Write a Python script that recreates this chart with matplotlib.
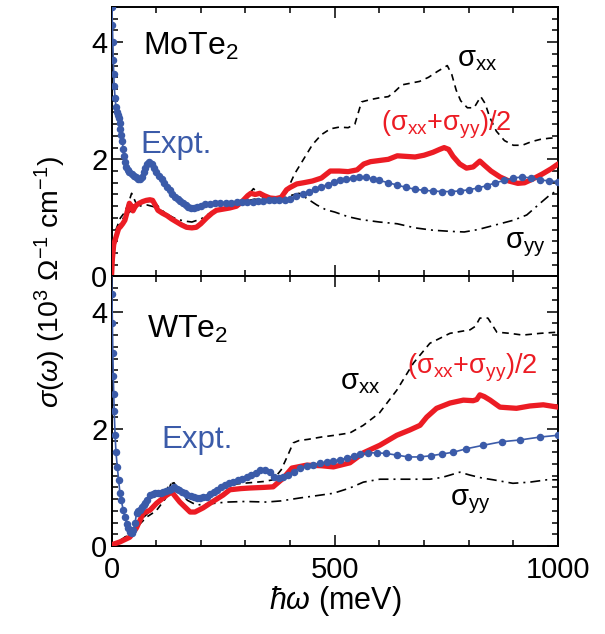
import matplotlib
matplotlib.use("Agg")
import matplotlib.pyplot as plt
from matplotlib.ticker import MultipleLocator

plt.rcParams['font.family'] = ['Liberation Sans', 'DejaVu Sans']
plt.rcParams['mathtext.fontset'] = 'custom'
plt.rcParams['mathtext.rm'] = 'Liberation Sans'
plt.rcParams['mathtext.it'] = 'Liberation Sans:italic'
plt.rcParams['mathtext.default'] = 'regular'

RED = '#ec1c24'
BLUE = '#3b5ba9'

# ---------------- MoTe2 (top panel) ----------------
mo_expt_e = [0, 1, 2, 3, 4, 5, 6, 8, 10, 12, 14, 16, 18, 20, 22, 24, 26, 28, 30, 33, 36, 40, 45, 50,
             55, 60, 64, 68, 72, 76, 80, 85, 90, 95, 100, 106, 112, 118, 124, 130, 136, 142, 148,
             154, 160, 166, 172, 178, 185, 192, 200, 210, 220, 232, 244, 256, 268, 280, 292, 304,
             316, 328, 340, 352, 364, 376, 388, 400, 414, 428, 442, 456, 470, 484, 498, 512, 526,
             540, 555, 570, 585, 600, 620, 640, 660, 680, 700, 720, 740, 760, 780, 800, 820, 840,
             860, 880, 900, 920, 940, 960, 980, 1000]
mo_expt_s = [4.8, 4.6, 4.3, 4.0, 3.7, 3.45, 3.25, 3.05, 2.9, 2.8, 2.75, 2.7, 2.62, 2.52, 2.42, 2.32,
             2.18, 2.05, 1.95, 1.87, 1.82, 1.78, 1.75, 1.72, 1.7, 1.67, 1.66, 1.7, 1.78, 1.86, 1.92,
             1.95, 1.92, 1.85, 1.78, 1.72, 1.66, 1.6, 1.53, 1.47, 1.41, 1.36, 1.32, 1.29, 1.25, 1.22,
             1.19, 1.17, 1.17, 1.19, 1.21, 1.23, 1.24, 1.25, 1.25, 1.26, 1.26, 1.27, 1.27, 1.28,
             1.28, 1.29, 1.29, 1.3, 1.3, 1.31, 1.31, 1.33, 1.37, 1.41, 1.45, 1.49, 1.53, 1.57, 1.61,
             1.64, 1.66, 1.68, 1.69, 1.69, 1.67, 1.64, 1.6, 1.56, 1.52, 1.49, 1.47, 1.46, 1.45, 1.45,
             1.46, 1.48, 1.51, 1.55, 1.6, 1.64, 1.68, 1.7, 1.68, 1.65, 1.63, 1.62]

mo_avg_e = [0, 2, 5, 8, 12, 16, 20, 25, 30, 35, 40, 45, 48, 52, 56, 62, 70, 78, 86, 92, 98, 104,
            114, 124, 135, 146, 157, 168, 180, 190, 200, 213, 225, 235, 250, 265, 280, 295, 305,
            312, 322, 332, 342, 355, 368, 380, 392, 400, 415, 430, 450, 470, 490, 510, 530, 550,
            565, 580, 600, 620, 640, 660, 680, 700, 720, 735, 745, 755, 765, 780, 795, 810, 825,
            835, 850, 870, 890, 910, 925, 945, 965, 985, 1000]
mo_avg_s = [0.0, 0.3, 0.55, 0.62, 0.72, 0.82, 0.85, 0.9, 0.96, 1.1, 1.25, 1.2, 1.12, 1.18, 1.22,
            1.25, 1.28, 1.3, 1.31, 1.3, 1.22, 1.13, 1.08, 1.04, 0.98, 0.93, 0.88, 0.84, 0.83, 0.84,
            0.9, 1.0, 1.08, 1.13, 1.15, 1.17, 1.2, 1.3, 1.38, 1.42, 1.4, 1.42, 1.38, 1.34, 1.33,
            1.35, 1.48, 1.52, 1.58, 1.6, 1.63, 1.68, 1.8, 1.8, 1.79, 1.82, 1.92, 1.96, 1.98, 2.0,
            2.06, 2.05, 2.04, 2.07, 2.12, 2.17, 2.2, 2.17, 2.05, 1.92, 1.85, 1.87, 1.97, 1.9, 1.8,
            1.7, 1.63, 1.59, 1.6, 1.67, 1.75, 1.84, 1.92]

mo_xx_e = [0, 5, 10, 20, 30, 40, 45, 55, 65, 80, 95, 110, 130, 150, 170, 190, 210, 230, 250, 270,
           290, 305, 318, 330, 350, 370, 385, 395, 410, 430, 450, 470, 490, 510, 530, 545, 560,
           580, 600, 620, 635, 650, 670, 690, 710, 730, 752, 762, 772, 782, 797, 812, 827, 837,
           847, 862, 880, 900, 920, 940, 960, 980, 1000]
mo_xx_s = [0.0, 0.5, 0.8, 1.0, 1.1, 1.3, 1.42, 1.25, 1.25, 1.28, 1.28, 1.15, 1.02, 0.93, 0.86, 0.86,
           0.98, 1.1, 1.15, 1.17, 1.22, 1.38, 1.5, 1.4, 1.3, 1.28, 1.3, 1.5, 1.75, 2.0, 2.25, 2.42,
           2.52, 2.55, 2.54, 2.6, 2.98, 3.02, 3.05, 3.07, 3.16, 3.27, 3.3, 3.33, 3.4, 3.5, 3.6, 3.45,
           3.18, 3.0, 2.88, 2.88, 3.07, 2.95, 2.72, 2.48, 2.32, 2.24, 2.24, 2.3, 2.34, 2.36, 2.37]

mo_yy_e = [0, 10, 20, 30, 40, 50, 60, 80, 100, 120, 140, 160, 180, 200, 220, 240, 260, 280, 300,
           320, 340, 360, 380, 400, 420, 440, 460, 480, 500, 530, 560, 600, 640, 680, 720, 760,
           790, 820, 860, 900, 930, 960, 980, 1000]
mo_yy_s = [0.0, 0.7, 0.9, 1.05, 1.1, 1.15, 1.2, 1.22, 1.18, 1.08, 1.0, 0.95, 0.93, 0.98, 1.08,
           1.15, 1.17, 1.2, 1.28, 1.32, 1.3, 1.3, 1.32, 1.38, 1.42, 1.32, 1.22, 1.14, 1.1, 1.02,
           0.97, 0.93, 0.9, 0.83, 0.79, 0.77, 0.76, 0.8, 0.88, 0.96, 1.05, 1.25, 1.38, 1.48]

# ---------------- WTe2 (bottom panel) ----------------
w_expt_e = [0, 1, 2, 3, 4, 5, 6, 8, 10, 13, 16, 19, 22, 26, 30, 34, 38, 41, 45, 49, 53, 56, 60,
            64, 68, 72, 76, 80, 86, 92, 98, 104, 110, 116, 122, 128, 134, 140, 146, 152, 158, 164,
            170, 177, 184, 191, 198, 206, 213, 221, 229, 237, 245, 254, 263, 273, 283, 293, 303,
            313, 323, 333, 343, 355, 365, 375, 385, 395, 408, 422, 437, 452, 467, 482, 497, 512,
            527, 542, 557, 575, 595, 615, 640, 665, 690, 715, 740, 765, 795, 833, 874, 915, 960, 1000]
w_expt_s = [4.8, 4.3, 3.8, 3.3, 2.9, 2.6, 2.3, 1.9, 1.6, 1.35, 1.12, 0.9, 0.78, 0.62, 0.5, 0.38,
            0.3, 0.24, 0.22, 0.27, 0.4, 0.56, 0.6, 0.62, 0.66, 0.7, 0.74, 0.78, 0.87, 0.88, 0.9,
            0.9, 0.91, 0.92, 0.94, 0.96, 0.98, 1.0, 0.98, 0.96, 0.93, 0.9, 0.87, 0.85, 0.83, 0.82,
            0.82, 0.83, 0.84, 0.88, 0.92, 0.96, 1.0, 1.04, 1.07, 1.09, 1.12, 1.15, 1.18, 1.21,
            1.25, 1.29, 1.3, 1.26, 1.18, 1.16, 1.18, 1.21, 1.27, 1.33, 1.36, 1.39, 1.41, 1.43,
            1.45, 1.47, 1.5, 1.54, 1.57, 1.59, 1.59, 1.58, 1.55, 1.52, 1.52, 1.54, 1.57, 1.6,
            1.66, 1.72, 1.78, 1.81, 1.86, 1.89]

w_avg_e = [0, 19, 41, 56, 71, 86, 101, 124, 135, 153, 176, 187, 205, 221, 250, 265, 290, 310,
           340, 362, 385, 404, 437, 470, 497, 534, 564, 601, 639, 668, 691, 706, 728, 758, 788,
           810, 818, 825, 835, 848, 870, 907, 937, 967, 1000]
w_avg_s = [0.02, 0.07, 0.15, 0.31, 0.56, 0.61, 0.73, 0.87, 0.92, 0.75, 0.58, 0.58, 0.65, 0.73,
           0.87, 0.96, 0.98, 0.99, 1.0, 1.01, 1.16, 1.33, 1.38, 1.37, 1.35, 1.42, 1.59, 1.72,
           1.89, 1.98, 2.06, 2.2, 2.35, 2.44, 2.49, 2.48, 2.5, 2.58, 2.55, 2.49, 2.37, 2.35,
           2.39, 2.41, 2.37]

w_xx_e = [0, 20, 40, 60, 80, 100, 120, 135, 150, 170, 190, 210, 230, 250, 280, 310, 340, 362,
          380, 395, 407, 420, 440, 470, 500, 534, 564, 600, 639, 676, 713, 758, 803, 815, 825,
          843, 863, 892, 921, 960, 1000]
w_xx_s = [0.0, 0.1, 0.2, 0.35, 0.5, 0.6, 0.8, 1.1, 0.95, 0.82, 0.8, 0.85, 0.95, 1.02, 1.06, 1.08,
          1.1, 1.13, 1.3, 1.55, 1.76, 1.8, 1.82, 1.86, 1.89, 1.93, 2.06, 2.27, 2.66, 3.12, 3.46,
          3.63, 3.69, 3.75, 3.89, 3.89, 3.65, 3.63, 3.6, 3.63, 3.65]

w_yy_e = [0, 20, 40, 60, 80, 100, 115, 130, 140, 150, 170, 190, 220, 258, 300, 347, 380, 422,
          460, 497, 534, 564, 601, 639, 680, 713, 740, 758, 780, 803, 830, 855, 899, 937, 975, 1000]
w_yy_s = [0.0, 0.1, 0.2, 0.4, 0.55, 0.7, 0.85, 1.05, 1.08, 0.95, 0.78, 0.7, 0.72, 0.75, 0.76,
          0.75, 0.77, 0.82, 0.86, 0.9, 0.99, 1.09, 1.14, 1.14, 1.14, 1.14, 1.17, 1.21, 1.26,
          1.21, 1.16, 1.13, 1.07, 1.09, 1.13, 1.13]

XMAX = 1000
YMAX = 4.6

fig = plt.figure(figsize=(6.05, 6.34), dpi=100)
L, R = 111.5 / 605, 558 / 605
ax_top = fig.add_axes([L, 1 - 276.5 / 634, R - L, (276.5 - 7) / 634])
ax_bot = fig.add_axes([L, 1 - 546 / 634, R - L, (546 - 276.5) / 634])

def draw(ax, ee, es, ae, as_, xe, xs, ye, ys):
    ax.plot(ye, ys, color='black', lw=1.2, linestyle=(0, (6, 3, 1.2, 3)), zorder=2)
    ax.plot(xe, xs, color='black', lw=1.2, linestyle=(0, (4, 3)), zorder=2)
    ax.plot(ae, as_, color=RED, lw=3.8, zorder=3, solid_capstyle='round', solid_joinstyle='round')
    ax.plot(ee, es, color=BLUE, lw=1.2, marker='o', ms=4.4, mec=BLUE, mfc=BLUE, zorder=4)
    ax.set_xlim(0, XMAX)
    ax.set_ylim(0, YMAX)
    ax.xaxis.set_major_locator(MultipleLocator(500))
    ax.xaxis.set_minor_locator(MultipleLocator(100))
    ax.yaxis.set_major_locator(MultipleLocator(2))
    ax.yaxis.set_minor_locator(MultipleLocator(0.2))
    ax.tick_params(which='both', direction='in', top=True, right=True, width=1.1,
                   labelsize=21)
    ax.tick_params(axis='y', pad=3)
    ax.tick_params(axis='x', pad=7)
    ax.tick_params(which='major', length=8)
    ax.tick_params(which='minor', length=4)
    for sp in ax.spines.values():
        sp.set_linewidth(1.4)

draw(ax_top, mo_expt_e, mo_expt_s, mo_avg_e, mo_avg_s, mo_xx_e, mo_xx_s, mo_yy_e, mo_yy_s)
draw(ax_bot, w_expt_e, w_expt_s, w_avg_e, w_avg_s, w_xx_e, w_xx_s, w_yy_e, w_yy_s)
ax_top.tick_params(labelbottom=False)
ax_top.set_yticks([0, 2, 4])
ax_bot.set_yticks([0, 2, 4])

ax_top.text(70, 3.93, r'MoTe$_2$', fontsize=23, ha='left', va='center')
ax_top.text(64, 2.25, 'Expt.', fontsize=22.5, color=BLUE, ha='left', va='center')
ax_top.text(773, 3.72, r'σ$_{xx}$', fontsize=21, ha='left', va='center')
ax_top.text(749, 2.59, r'(σ$_{xx}$+σ$_{yy}$)/2', fontsize=19.5, color=RED, ha='center', va='center')
ax_top.text(881, 0.55, r'σ$_{yy}$', fontsize=21, ha='left', va='center')

ax_bot.text(79, 3.69, r'WTe$_2$', fontsize=23, ha='left', va='center')
ax_bot.text(112, 1.81, 'Expt.', fontsize=22.5, color=BLUE, ha='left', va='center')
ax_bot.text(512, 2.8, r'σ$_{xx}$', fontsize=21, ha='left', va='center')
ax_bot.text(808, 3.04, r'(σ$_{xx}$+σ$_{yy}$)/2', fontsize=19.5, color=RED, ha='center', va='center')
ax_bot.text(758, 0.75, r'σ$_{yy}$', fontsize=21, ha='left', va='center')

ax_bot.set_xlabel(r'$\mathit{\hbar\omega}$ (meV)', fontsize=22, labelpad=0)
fig.text(50 / 605, 1 - 282 / 634,
         r'$\mathit{\sigma}(\mathit{\omega})$ (10$^3$ Ω$^{-1}$ cm$^{-1}$)',
         rotation=90, fontsize=20.5, ha='center', va='center')

fig.savefig('out.png', dpi=100)
